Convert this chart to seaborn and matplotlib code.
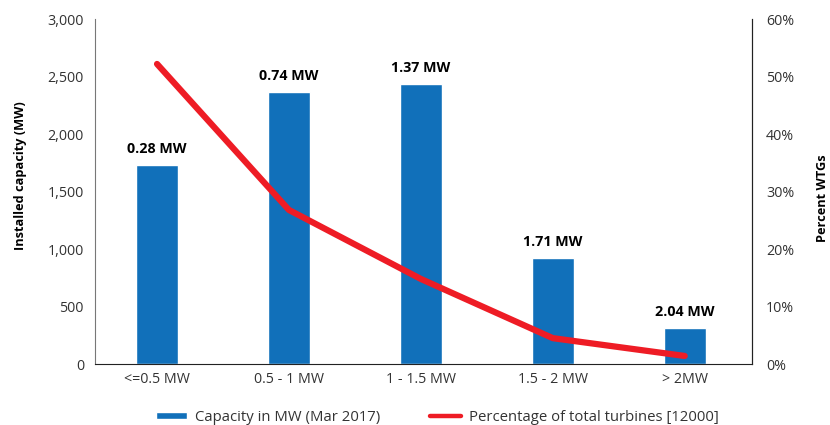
import numpy as np
import pandas as pd
import matplotlib
matplotlib.use('Agg')
import matplotlib.pyplot as plt
from matplotlib.ticker import FuncFormatter, PercentFormatter
from matplotlib.patches import Patch
from matplotlib.lines import Line2D
import seaborn as sns

# data
categories = ['<=0.5 MW', '0.5 - 1 MW', '1 - 1.5 MW', '1.5 - 2 MW', '> 2MW']
capacity_mw = [1730, 2363, 2432, 922, 313]
avg_size_labels = ['0.28 MW', '0.74 MW', '1.37 MW', '1.71 MW', '2.04 MW']
pct_turbines = [52.2, 26.8, 14.8, 4.5, 1.4]

df = pd.DataFrame({'cat': categories, 'cap': capacity_mw, 'pct': pct_turbines})

sns.set_style('white')
plt.rcParams['font.family'] = ['Open Sans', 'DejaVu Sans']

BLUE = '#1170BA'
RED = '#EE1C25'
TXT = '#333333'
FS = 10.3

fig = plt.figure(figsize=(8.3, 4.25), dpi=100)
ax = fig.add_axes([0.1145, 0.1435, 0.7915, 0.8115])

sns.barplot(data=df, x='cat', y='cap', color=BLUE, width=0.32, saturation=1, ax=ax)
ax.set_ylim(0, 3000)
ax.set_xlim(-0.47, 4.51)
ax.yaxis.set_major_formatter(FuncFormatter(lambda v, p: f'{int(v):,}'))
ax.set_xlabel('')
ax.set_ylabel('Installed capacity (MW)', fontsize=9.2, fontweight='bold', color='black')
ax.yaxis.set_label_coords(-0.104, 0.545)
ax.tick_params(axis='both', length=0, labelsize=FS, colors=TXT)
ax.tick_params(axis='y', pad=8)
ax.tick_params(axis='x', pad=6)

# avg turbine size labels over bars
for i, (v, lab) in enumerate(zip(capacity_mw, avg_size_labels)):
    ax.annotate(lab, (i, v), xytext=(0, 9), textcoords='offset points',
                ha='center', va='baseline', fontsize=FS, fontweight='bold', color='black')

ax2 = ax.twinx()
sns.lineplot(data=df, x='cat', y='pct', color=RED, linewidth=4.5, sort=False, ax=ax2)
ax2.set_ylim(0, 60)
ax2.yaxis.set_major_formatter(PercentFormatter(decimals=0))
ax2.set_ylabel('Percent WTGs', fontsize=9.2, fontweight='bold', color='black')
ax2.yaxis.set_label_coords(1.097, 0.48)
ax2.tick_params(axis='y', length=0, labelsize=FS, colors=TXT, pad=10)

for a in (ax, ax2):
    a.spines['top'].set_visible(False)
ax.spines['left'].set_color('#777777')
ax.spines['bottom'].set_color('#222222')
ax2.spines['right'].set_color('#222222')
ax2.spines['left'].set_visible(False)
ax2.spines['bottom'].set_visible(False)

handles = [Patch(facecolor=BLUE, label='Capacity in MW (Mar 2017)'),
           Line2D([0], [0], color=RED, linewidth=3.2, label='Percentage of total turbines [12000]')]
fig.legend(handles=handles, loc='center', bbox_to_anchor=(0.527, 0.018), ncol=2,
           frameon=False, fontsize=10.7, handlelength=2.1, handleheight=0.35,
           handletextpad=0.55, columnspacing=3.3, labelcolor=TXT)

fig.savefig('out.png', dpi=100)
